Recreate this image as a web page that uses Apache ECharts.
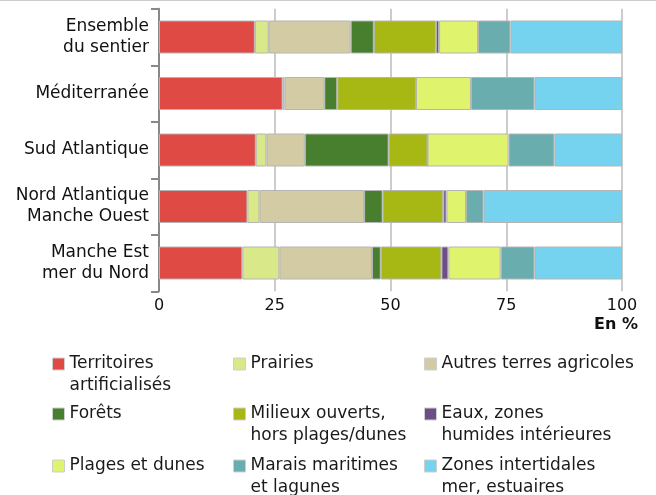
<!DOCTYPE html>
<html>
<head>
<meta charset="utf-8">
<script src="https://cdn.jsdelivr.net/npm/echarts@6/dist/echarts.min.js"></script>
<style>
  html, body { margin: 0; padding: 0; background: #fff; }
  #chart { width: 656px; height: 495px; }
</style>
</head>
<body>
<div id="chart"></div>
<script>
const categories = ['Ensemble\ndu sentier', 'Méditerranée', 'Sud Atlantique', 'Nord Atlantique\nManche Ouest', 'Manche Est\nmer du Nord'];
const xTicks = [0, 25, 50, 75, 100];

const territoires = [20.7, 26.7, 20.9, 19.1, 18.0];
const prairies = [3.0, 0.4, 2.3, 2.6, 8.0];
const autresAgricoles = [17.7, 8.6, 8.3, 22.6, 20.0];
const forets = [5.0, 2.8, 18.1, 4.0, 1.9];
const milieuxOuverts = [13.4, 17.0, 8.4, 13.1, 13.1];
const eaux = [0.7, 0, 0, 0.7, 1.5];
const plages = [8.4, 11.9, 17.5, 4.2, 11.3];
const marais = [7.0, 13.7, 9.9, 3.8, 7.3];
const zonesIntertidales = [24.1, 18.9, 14.6, 29.9, 18.9];

const seriesList = [
  { name: 'Territoires\nartificialisés', data: territoires, color: '#e04a45', col: 0, row: 0 },
  { name: 'Prairies', data: prairies, color: '#d9e98a', col: 1, row: 0 },
  { name: 'Autres terres agricoles', data: autresAgricoles, color: '#d2cba3', col: 2, row: 0 },
  { name: 'Forêts', data: forets, color: '#477f2e', col: 0, row: 1 },
  { name: 'Milieux ouverts,\nhors plages/dunes', data: milieuxOuverts, color: '#a7b714', col: 1, row: 1 },
  { name: 'Eaux, zones\nhumides intérieures', data: eaux, color: '#6c4f87', col: 2, row: 1 },
  { name: 'Plages et dunes', data: plages, color: '#dff46c', col: 0, row: 2 },
  { name: 'Marais maritimes\net lagunes', data: marais, color: '#69adaf', col: 1, row: 2 },
  { name: 'Zones intertidales\nmer, estuaires', data: zonesIntertidales, color: '#75d3ef', col: 2, row: 2 }
];

const colX = [52, 233, 424];
const rowY = [358, 408, 460];
const font = '"DejaVu Sans", Verdana, sans-serif';

const chart = echarts.init(document.getElementById('chart'));

// legend text is centred on the icon, so a blank first line keeps the icon level with line 1
const legends = seriesList.map(s => {
  const twoLines = s.name.indexOf('\n') >= 0;
  return {
    data: [s.name],
    left: colX[s.col],
    top: rowY[s.row] - (twoLines ? 27 : 5),
    padding: 0,
    itemWidth: 12,
    itemHeight: 12,
    icon: 'rect',
    selectedMode: false,
    formatter: name => (twoLines ? '\n' : '') + name,
    itemStyle: { borderColor: '#cfcfcf', borderWidth: 1 },
    textStyle: {
      fontFamily: font,
      fontSize: 17,
      color: '#1a1a1a',
      lineHeight: 22
    }
  };
});

const option = {
  backgroundColor: '#fff',
  animation: false,
  grid: { left: 159, right: 34, top: 8.75, height: 282.5, containLabel: false },
  legend: legends,
  xAxis: {
    type: 'value',
    min: 0,
    max: 100,
    interval: 25,
    axisLine: { show: false },
    axisTick: { show: false },
    splitLine: { show: true, lineStyle: { color: '#bbbbbb', width: 1.5 } },
    axisLabel: {
      margin: 7,
      fontFamily: font,
      fontSize: 16,
      color: '#111',
      formatter: v => xTicks.indexOf(v) >= 0 ? String(v) : ''
    }
  },
  yAxis: {
    type: 'category',
    inverse: true,
    data: categories,
    axisLine: { show: true, lineStyle: { color: '#888', width: 2 } },
    axisTick: { show: true, length: 8, lineStyle: { color: '#888', width: 2 } },
    axisLabel: {
      margin: 10,
      fontFamily: font,
      fontSize: 17,
      lineHeight: 21,
      color: '#111'
    }
  },
  graphic: [
    {
      type: 'line',
      shape: { x1: 0, y1: 0.5, x2: 656, y2: 0.5 },
      style: { stroke: '#cccccc', lineWidth: 1 }
    },
    {
      type: 'text',
      right: 18,
      top: 317,
      style: {
        text: 'En %',
        font: 'bold 16px ' + font,
        fill: '#111'
      }
    }
  ],
  series: seriesList.map(s => ({
    name: s.name,
    type: 'bar',
    stack: 'total',
    barWidth: 33,
    data: s.data,
    itemStyle: { color: s.color, borderColor: '#b5b5b5', borderWidth: 1 },
    emphasis: { disabled: true }
  }))
};

chart.setOption(option);
</script>
</body>
</html>
